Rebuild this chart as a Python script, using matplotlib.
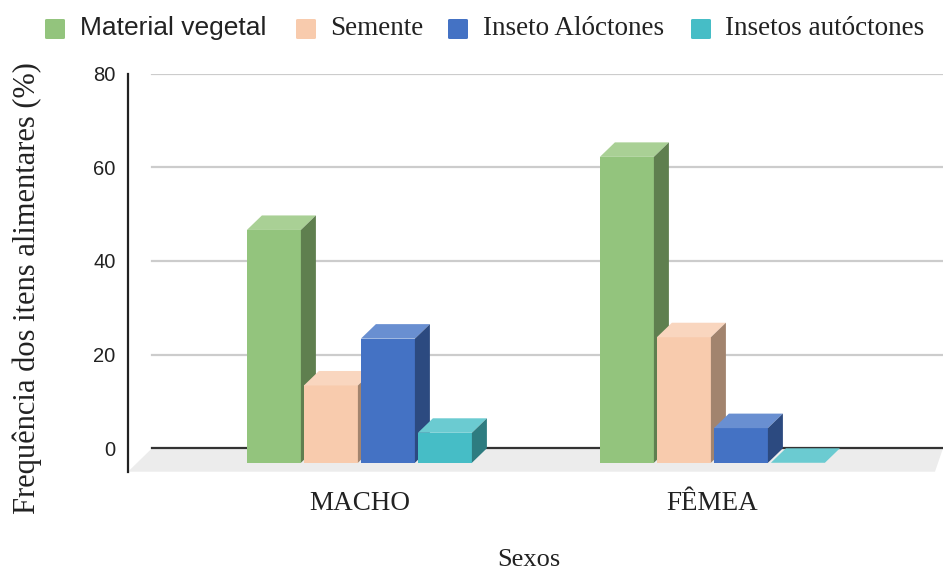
import matplotlib
matplotlib.use("Agg")
import matplotlib.pyplot as plt
from matplotlib.patches import Polygon, FancyBboxPatch

# dados (%)
sexos = ["MACHO", "FÊMEA"]
itens = ["Material vegetal", "Semente", "Inseto Alóctones", "Insetos autóctones"]
macho = [49.7, 16.5, 26.5, 6.4]
femea = [65.3, 26.8, 7.4, 0.0]
yticks = [0, 20, 40, 60, 80]

# cores: frente, topo, lateral
cor_frente = ["#93c47d", "#f8cbad", "#4472c4", "#46bdc6"]
cor_topo = ["#a9d095", "#f9d6bf", "#698fd1", "#6bcbd1"]
cor_lado = ["#5f7f4f", "#a2846e", "#2c4a80", "#2e7c80"]

W, H = 943, 570
fig = plt.figure(figsize=(W / 100, H / 100), dpi=100)

# eixo posicionado em pixels
px_l, px_r, px_t, px_b = 128, 943, 73.5, 471.7
ax = fig.add_axes([px_l / W, 1 - px_b / H, (px_r - px_l) / W, (px_b - px_t) / H])

ppx = 353.0                    # pixels por categoria
larg = 54 / ppx                # largura da barra
passo = 57 / ppx
dx = 15 / ppx                  # profundidade em x
ymin, ymax = -5, 80
ppy = (px_b - px_t) / (ymax - ymin)
dy = 14.5 / ppy                # profundidade em y

xmin = -(359.4 - px_l) / ppx
xmax = (px_r - 359.4) / ppx
ax.set_xlim(xmin, xmax)
ax.set_ylim(ymin, ymax)

# grade na parede de fundo
x_fundo = xmin + 24 / ppx
for t in yticks[1:]:
    ax.plot([x_fundo, xmax], [t, t], color="#cccccc", lw=1.6, zorder=1)

# piso
piso = Polygon([(x_fundo, 0), (xmax, 0), (xmax - 8 / ppx, ymin), (xmin, ymin)],
               closed=True, facecolor="#ececec", edgecolor="none", zorder=1)
ax.add_patch(piso)
ax.plot([x_fundo, xmax], [0, 0], color="#333333", lw=1.6, zorder=2)

# barras 3D
z = 3
for g, vals in enumerate([macho, femea]):
    x_ini = g - 2 * passo + (passo - larg) / 2
    for i, v in enumerate(vals):
        x0 = x_ini + i * passo
        ax.bar(x0, v, width=larg, bottom=-dy, align="edge",
               color=cor_frente[i], edgecolor="none", zorder=z)
        topo = Polygon([(x0, v - dy), (x0 + larg, v - dy), (x0 + larg + dx, v), (x0 + dx, v)],
                       closed=True, facecolor=cor_topo[i], edgecolor="none", zorder=z)
        lado = Polygon([(x0 + larg, -dy), (x0 + larg + dx, 0), (x0 + larg + dx, v), (x0 + larg, v - dy)],
                       closed=True, facecolor=cor_lado[i], edgecolor="none", zorder=z)
        ax.add_patch(topo)
        if v > 0:
            ax.add_patch(lado)
        z += 1

for s in ["top", "right", "bottom"]:
    ax.spines[s].set_visible(False)
ax.spines["left"].set_color("#222222")
ax.spines["left"].set_linewidth(1.6)

ax.set_yticks(yticks)
ax.set_yticklabels([str(t) for t in yticks], fontfamily="Liberation Sans", fontsize=14.5, color="#222222")
ax.tick_params(axis="y", length=0, pad=9)
ax.set_xticks([0, 1])
ax.set_xticklabels(sexos, fontfamily="Liberation Serif", fontsize=19.5, color="#222222")
ax.tick_params(axis="x", length=0, pad=14)

fig.text(27 / W, 1 - 288 / H, "Frequência dos itens alimentares (%)", rotation=90,
         ha="center", va="center", fontfamily="Liberation Serif", fontsize=22, color="#222222")
fig.text(529 / W, 1 - 560 / H, "Sexos", ha="center", va="center",
         fontfamily="Liberation Serif", fontsize=19, color="#222222")

# legenda
leg_q = [45, 296, 448, 691]
leg_t = [80, 330, 483, 725]
leg_fonte = ["Liberation Sans", "Liberation Serif", "Liberation Serif", "Liberation Serif"]
leg_tam = [19, 19.5, 19.5, 19.5]
for i, nome in enumerate(itens):
    fig.patches.append(FancyBboxPatch((leg_q[i] / W, 1 - 39 / H), 20 / W, 20 / H,
                                      boxstyle="round,pad=0,rounding_size=0.002",
                                      transform=fig.transFigure, facecolor=cor_frente[i], edgecolor="none"))
    fig.text(leg_t[i] / W, 1 - 28.5 / H, nome, ha="left", va="center",
             fontfamily=leg_fonte[i], fontsize=leg_tam[i], color="#222222")

fig.savefig("out.png", dpi=100, facecolor="white")
